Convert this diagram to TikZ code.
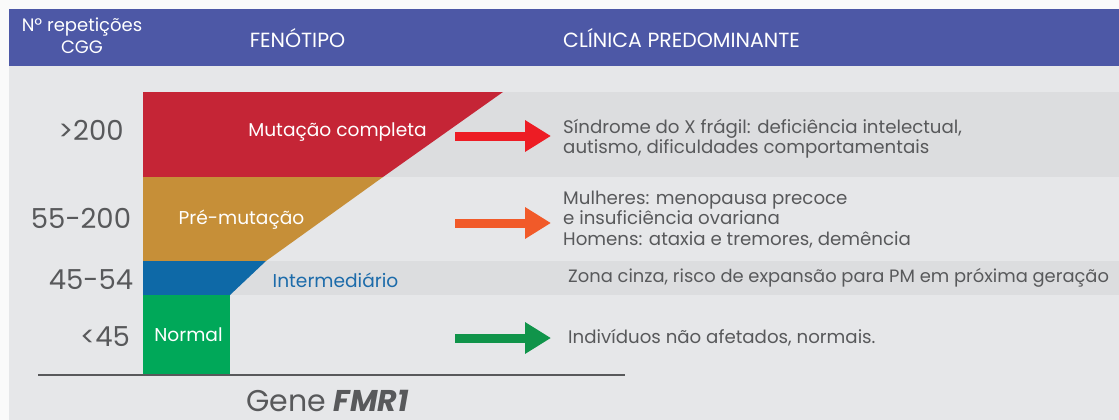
\documentclass[tikz,border=0pt]{standalone}
\usepackage{fontspec}
\setmainfont{Poppins}
\usetikzlibrary{arrows.meta}
\definecolor{bgwhite}{HTML}{FAFAFA}
\definecolor{bglight}{HTML}{E6E7E9}
\definecolor{bgband}{HTML}{DCDDDF}
\definecolor{hdr}{HTML}{4D58A6}
\definecolor{cred}{HTML}{C52536}
\definecolor{cgold}{HTML}{C68F38}
\definecolor{cblue}{HTML}{0E69A7}
\definecolor{cgreen}{HTML}{00A859}
\definecolor{ared}{HTML}{ED1C24}
\definecolor{aorange}{HTML}{F15A29}
\definecolor{agreen}{HTML}{10944A}
\definecolor{txt}{HTML}{58595B}
\definecolor{ltxt}{HTML}{1C6BAA}
\begin{document}
\begin{tikzpicture}[x=1pt,y=-1pt,
  hdrtext/.style={text=white, inner sep=0pt, font=\fontsize{20.5}{24}\selectfont},
  numtext/.style={text=txt, inner sep=0pt, font=\fontsize{27.5}{32}\selectfont},
  lbltext/.style={text=white, inner sep=0pt, font=\fontsize{18.6}{22}\selectfont},
  clintext/.style={text=txt, inner sep=0pt, anchor=west, align=left, font=\fontsize{18.2}{20.5}\selectfont},
  blockarrow/.style={line width=9pt, -{Triangle[length=26pt,width=30pt]}, shorten >=-1pt}
]
\fill[bgwhite] (0,0) rectangle (1119,420);
\useasboundingbox (0,0) rectangle (1119,420);
\fill[bglight] (9,9) rectangle (1119,420);
\fill[hdr] (9,9) rectangle (1119,66);
\fill[bgband] (143,92) rectangle (1119,177);
\fill[bgband] (143,261) rectangle (1119,295);
% phenotype shapes
\fill[cred] (143,92) -- (503,92) -- (383,177) -- (143,177) -- cycle;
\fill[cgold] (143,177) -- (383,177) -- (266,261) -- (143,261) -- cycle;
\fill[cblue] (143,261) -- (266,261) -- (230,295) -- (143,295) -- cycle;
\fill[cgreen] (143,295) rectangle (230,375);
% axis
\coordinate (axL) at (38,375);
\coordinate (axR) at (625,375);
\draw[txt, line width=2.5pt] (axL) -- (axR);
% header
\node[hdrtext, align=center, font=\fontsize{18}{22}\selectfont] (hcgg) at (82,36) {Nº repetições\\CGG};
\node[hdrtext] (hfen) at (297.5,38) {FENÓTIPO};
\node[hdrtext, anchor=west] (hcli) at (563,38) {CLÍNICA PREDOMINANTE};
% numbers
\node[numtext] (n1) at (91,130) {>200};
\node[numtext] (n2) at (81,218) {55-200};
\node[numtext] (n3) at (91,280) {45-54};
\node[numtext] (n4) at (105,337) {<45};
% labels
\node[lbltext] (l1) at (337.5,132) {Mutação completa};
\node[lbltext] (l2) at (241.5,220) {Pré-mutação};
\node[lbltext, text=ltxt] (l3) at (335.5,280) {Intermediário};
\node[lbltext] (l4) at (188.5,335) {Normal};
% clinical texts
\node[clintext] (c1) at (563,138.5) {Síndrome do X frágil: deficiência intelectual,\\autismo, dificuldades comportamentais};
\node[clintext] (c2) at (563,219.5) {Mulheres: menopausa precoce\\e insuficiência ovariana\\Homens: ataxia e tremores, demência};
\node[clintext, font=\fontsize{17.9}{20.5}\selectfont] (c3) at (568,278) {Zona cinza, risco de expansão para PM em próxima geração};
\node[clintext] (c4) at (568,338) {Indivíduos não afetados, normais.};
% arrows
\coordinate (a1s) at (455,136); \coordinate (a1e) at (550,136);
\coordinate (a2s) at (455,223); \coordinate (a2e) at (550,223);
\coordinate (a3s) at (455,338); \coordinate (a3e) at (550,338);
\draw[blockarrow, ared] (a1s) -- (a1e);
\draw[blockarrow, aorange] (a2s) -- (a2e);
\draw[blockarrow, agreen] (a3s) -- (a3e);
% gene label
\node[numtext, font=\fontsize{30}{34}\selectfont] (gene) at (327.5,401) {Gene \textbf{\textit{FMR1}}};
\end{tikzpicture}
\end{document}
